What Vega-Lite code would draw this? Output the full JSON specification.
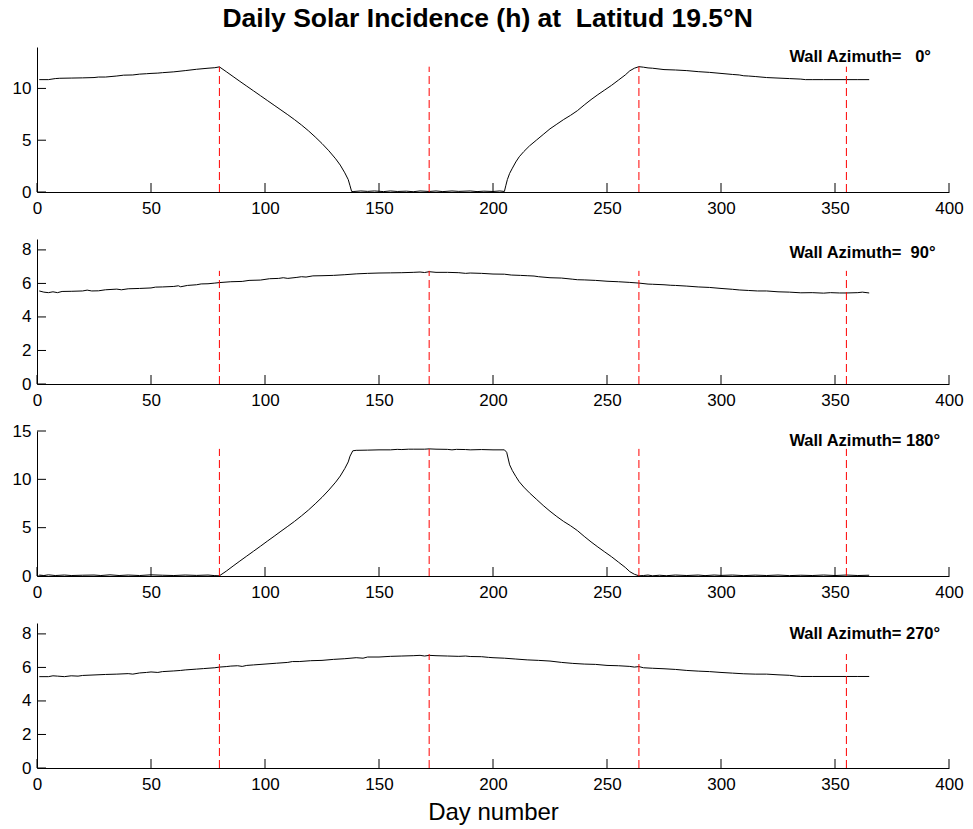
{
  "$schema": "https://vega.github.io/schema/vega-lite/v6.json",
  "background": "white",
  "padding": {"left": 12, "right": 5, "top": 5, "bottom": 5},
  "title": {"text": "Daily Solar Incidence (h) at\u00a0\u00a0Latitud 19.5°N", "font": "Liberation Sans", "fontSize": 26.5, "fontWeight": "bold", "color": "black", "anchor": "middle", "offset": 15},
  "datasets": {
    "days": [{"d": 80}, {"d": 172}, {"d": 264}, {"d": 355}],
    "xt": [{"t": 0}, {"t": 50}, {"t": 100}, {"t": 150}, {"t": 200}, {"t": 250}, {"t": 300}, {"t": 350}, {"t": 400}],
    "n0": [
      {"d":1,"h":10.85},{"d":5,"h":10.85},{"d":8,"h":10.95},{"d":10,"h":10.98},{"d":15,"h":11.0},{"d":20,"h":11.02},{"d":25,"h":11.05},{"d":27,"h":11.1},{"d":30,"h":11.1},{"d":35,"h":11.2},{"d":38,"h":11.28},{"d":42,"h":11.3},{"d":45,"h":11.38},{"d":48,"h":11.42},{"d":50,"h":11.45},{"d":53,"h":11.48},{"d":55,"h":11.52},{"d":60,"h":11.6},{"d":65,"h":11.72},{"d":70,"h":11.85},{"d":75,"h":11.95},{"d":78,"h":12.0},{"d":80,"h":12.08},
      {"d":83,"h":11.62},{"d":86,"h":11.15},{"d":89,"h":10.68},{"d":92,"h":10.22},{"d":95,"h":9.76},{"d":98,"h":9.3},{"d":101,"h":8.84},{"d":104,"h":8.38},{"d":107,"h":7.92},{"d":110,"h":7.46},{"d":113,"h":6.98},{"d":116,"h":6.47},{"d":119,"h":5.92},{"d":122,"h":5.32},{"d":125,"h":4.68},{"d":128,"h":3.98},{"d":131,"h":3.2},{"d":133,"h":2.6},{"d":135,"h":1.85},{"d":136.5,"h":1.2},{"d":137.3,"h":0.6},{"d":138,"h":0.05},
      {"d":139,"h":0.05},{"d":142,"h":0.1},{"d":145,"h":0.06},{"d":148,"h":0.1},{"d":152,"h":0.04},{"d":155,"h":0.1},{"d":158,"h":0.05},{"d":162,"h":0.08},{"d":165,"h":0.03},{"d":168,"h":0.1},{"d":172,"h":0.05},{"d":175,"h":0.1},{"d":178,"h":0.04},{"d":182,"h":0.1},{"d":185,"h":0.06},{"d":190,"h":0.1},{"d":193,"h":0.04},{"d":196,"h":0.08},{"d":200,"h":0.05},{"d":203,"h":0.1},{"d":205,"h":0.05},
      {"d":205.6,"h":0.6},{"d":206.3,"h":1.2},{"d":207.3,"h":1.8},{"d":208.5,"h":2.3},{"d":210,"h":2.9},{"d":211.5,"h":3.4},{"d":213.5,"h":3.9},{"d":216,"h":4.45},{"d":219,"h":5.0},{"d":222,"h":5.55},{"d":225,"h":6.1},{"d":228,"h":6.55},{"d":231,"h":7.0},{"d":234,"h":7.4},{"d":237,"h":7.85},{"d":240,"h":8.4},{"d":243,"h":8.92},{"d":246,"h":9.4},{"d":249,"h":9.85},{"d":252,"h":10.3},{"d":255,"h":10.8},{"d":258,"h":11.3},{"d":260,"h":11.7},{"d":262,"h":11.95},{"d":264,"h":12.1},
      {"d":266,"h":12.05},{"d":268,"h":11.98},{"d":270,"h":11.95},{"d":275,"h":11.82},{"d":280,"h":11.78},{"d":285,"h":11.72},{"d":290,"h":11.62},{"d":295,"h":11.55},{"d":300,"h":11.45},{"d":305,"h":11.35},{"d":308,"h":11.3},{"d":310,"h":11.22},{"d":312,"h":11.2},{"d":315,"h":11.15},{"d":320,"h":11.05},{"d":325,"h":11.0},{"d":330,"h":10.95},{"d":335,"h":10.9},{"d":337,"h":10.85},{"d":340,"h":10.85},{"d":345,"h":10.85},{"d":350,"h":10.85},{"d":355,"h":10.85},{"d":360,"h":10.85},{"d":365,"h":10.85}
    ],
    "n90": [
      {"d":1,"h":5.55},{"d":3,"h":5.48},{"d":5,"h":5.45},{"d":7,"h":5.5},{"d":9,"h":5.45},{"d":11,"h":5.52},{"d":15,"h":5.53},{"d":20,"h":5.55},{"d":22,"h":5.6},{"d":24,"h":5.55},{"d":27,"h":5.56},{"d":30,"h":5.62},{"d":35,"h":5.66},{"d":37,"h":5.62},{"d":40,"h":5.68},{"d":45,"h":5.7},{"d":50,"h":5.73},{"d":52,"h":5.78},{"d":55,"h":5.79},{"d":60,"h":5.82},{"d":62,"h":5.86},{"d":63,"h":5.8},{"d":66,"h":5.88},{"d":70,"h":5.92},{"d":72,"h":5.97},{"d":75,"h":5.98},{"d":78,"h":6.02},{"d":80,"h":6.05},{"d":85,"h":6.1},{"d":90,"h":6.12},{"d":93,"h":6.18},{"d":98,"h":6.2},{"d":102,"h":6.28},{"d":106,"h":6.3},{"d":108,"h":6.34},{"d":110,"h":6.3},{"d":114,"h":6.36},{"d":116,"h":6.4},{"d":118,"h":6.38},{"d":121,"h":6.45},{"d":125,"h":6.46},{"d":130,"h":6.48},{"d":135,"h":6.52},{"d":140,"h":6.57},{"d":145,"h":6.6},{"d":150,"h":6.62},{"d":155,"h":6.63},{"d":160,"h":6.64},{"d":165,"h":6.66},{"d":168,"h":6.68},{"d":170,"h":6.65},{"d":172,"h":6.7},{"d":175,"h":6.66},{"d":180,"h":6.66},{"d":185,"h":6.64},{"d":188,"h":6.6},{"d":190,"h":6.62},{"d":195,"h":6.6},{"d":200,"h":6.56},{"d":205,"h":6.55},{"d":208,"h":6.5},{"d":212,"h":6.48},{"d":215,"h":6.46},{"d":218,"h":6.44},{"d":220,"h":6.4},{"d":225,"h":6.34},{"d":230,"h":6.32},{"d":235,"h":6.25},{"d":237,"h":6.22},{"d":240,"h":6.21},{"d":245,"h":6.18},{"d":250,"h":6.13},{"d":255,"h":6.1},{"d":260,"h":6.06},{"d":264,"h":6.02},{"d":268,"h":5.96},{"d":270,"h":5.95},{"d":275,"h":5.92},{"d":278,"h":5.89},{"d":280,"h":5.88},{"d":285,"h":5.84},{"d":290,"h":5.79},{"d":295,"h":5.76},{"d":300,"h":5.7},{"d":305,"h":5.65},{"d":308,"h":5.61},{"d":312,"h":5.58},{"d":316,"h":5.55},{"d":320,"h":5.55},{"d":325,"h":5.5},{"d":330,"h":5.48},{"d":335,"h":5.44},{"d":340,"h":5.45},{"d":345,"h":5.42},{"d":348,"h":5.45},{"d":352,"h":5.43},{"d":355,"h":5.43},{"d":360,"h":5.45},{"d":362,"h":5.48},{"d":365,"h":5.43}
    ],
    "n180": [
      {"d":1,"h":0.1},{"d":3,"h":0.05},{"d":5,"h":0.12},{"d":8,"h":0.05},{"d":12,"h":0.1},{"d":15,"h":0.05},{"d":20,"h":0.08},{"d":25,"h":0.1},{"d":28,"h":0.05},{"d":32,"h":0.12},{"d":36,"h":0.05},{"d":40,"h":0.1},{"d":45,"h":0.05},{"d":50,"h":0.12},{"d":55,"h":0.08},{"d":60,"h":0.05},{"d":65,"h":0.1},{"d":70,"h":0.06},{"d":75,"h":0.1},{"d":78,"h":0.04},{"d":80,"h":0.02},
      {"d":83,"h":0.5},{"d":86,"h":1.03},{"d":89,"h":1.55},{"d":92,"h":2.06},{"d":95,"h":2.57},{"d":98,"h":3.08},{"d":101,"h":3.6},{"d":104,"h":4.11},{"d":107,"h":4.63},{"d":110,"h":5.14},{"d":113,"h":5.66},{"d":116,"h":6.22},{"d":119,"h":6.81},{"d":122,"h":7.46},{"d":125,"h":8.14},{"d":128,"h":8.89},{"d":131,"h":9.71},{"d":133,"h":10.34},{"d":135,"h":11.12},{"d":136.5,"h":11.8},{"d":137.3,"h":12.4},{"d":138.5,"h":12.95},
      {"d":140,"h":13.0},{"d":145,"h":13.02},{"d":150,"h":13.05},{"d":155,"h":13.05},{"d":158,"h":13.1},{"d":160,"h":13.08},{"d":163,"h":13.12},{"d":165,"h":13.12},{"d":170,"h":13.12},{"d":172,"h":13.15},{"d":175,"h":13.12},{"d":180,"h":13.1},{"d":182,"h":13.05},{"d":184,"h":13.1},{"d":188,"h":13.08},{"d":190,"h":13.05},{"d":195,"h":13.08},{"d":200,"h":13.05},{"d":205,"h":13.05},
      {"d":206,"h":12.8},{"d":207.3,"h":11.5},{"d":208.5,"h":10.9},{"d":210,"h":10.3},{"d":211.5,"h":9.75},{"d":213.5,"h":9.2},{"d":216,"h":8.6},{"d":219,"h":7.95},{"d":222,"h":7.3},{"d":225,"h":6.7},{"d":228,"h":6.15},{"d":231,"h":5.64},{"d":234,"h":5.2},{"d":237,"h":4.7},{"d":240,"h":4.1},{"d":243,"h":3.53},{"d":246,"h":3.0},{"d":249,"h":2.49},{"d":252,"h":1.99},{"d":255,"h":1.44},{"d":258,"h":0.89},{"d":260,"h":0.45},{"d":262,"h":0.18},{"d":264,"h":0.02},
      {"d":266,"h":0.05},{"d":268,"h":0.1},{"d":270,"h":0.02},{"d":273,"h":0.08},{"d":276,"h":0.03},{"d":280,"h":0.1},{"d":285,"h":0.05},{"d":290,"h":0.1},{"d":293,"h":0.04},{"d":297,"h":0.1},{"d":300,"h":0.06},{"d":305,"h":0.1},{"d":310,"h":0.04},{"d":315,"h":0.09},{"d":320,"h":0.05},{"d":325,"h":0.1},{"d":330,"h":0.04},{"d":335,"h":0.08},{"d":340,"h":0.05},{"d":345,"h":0.1},{"d":350,"h":0.05},{"d":355,"h":0.1},{"d":360,"h":0.05},{"d":365,"h":0.08}
    ],
    "n270": [
      {"d":1,"h":5.45},{"d":5,"h":5.45},{"d":7,"h":5.5},{"d":9,"h":5.48},{"d":12,"h":5.45},{"d":15,"h":5.5},{"d":18,"h":5.48},{"d":20,"h":5.52},{"d":25,"h":5.55},{"d":30,"h":5.58},{"d":35,"h":5.6},{"d":40,"h":5.63},{"d":42,"h":5.6},{"d":45,"h":5.67},{"d":48,"h":5.7},{"d":50,"h":5.73},{"d":53,"h":5.7},{"d":55,"h":5.75},{"d":60,"h":5.79},{"d":63,"h":5.82},{"d":65,"h":5.85},{"d":70,"h":5.9},{"d":73,"h":5.93},{"d":75,"h":5.95},{"d":78,"h":5.98},{"d":80,"h":6.02},{"d":83,"h":6.05},{"d":85,"h":6.08},{"d":88,"h":6.1},{"d":90,"h":6.06},{"d":92,"h":6.12},{"d":95,"h":6.15},{"d":100,"h":6.2},{"d":105,"h":6.25},{"d":110,"h":6.3},{"d":112,"h":6.35},{"d":115,"h":6.35},{"d":120,"h":6.4},{"d":125,"h":6.42},{"d":130,"h":6.48},{"d":135,"h":6.52},{"d":140,"h":6.58},{"d":143,"h":6.55},{"d":145,"h":6.62},{"d":150,"h":6.62},{"d":155,"h":6.66},{"d":160,"h":6.68},{"d":165,"h":6.7},{"d":168,"h":6.72},{"d":170,"h":6.68},{"d":172,"h":6.72},{"d":175,"h":6.7},{"d":180,"h":6.68},{"d":185,"h":6.66},{"d":188,"h":6.68},{"d":190,"h":6.65},{"d":195,"h":6.64},{"d":198,"h":6.6},{"d":200,"h":6.58},{"d":205,"h":6.55},{"d":210,"h":6.5},{"d":215,"h":6.45},{"d":220,"h":6.42},{"d":225,"h":6.38},{"d":230,"h":6.3},{"d":235,"h":6.24},{"d":240,"h":6.2},{"d":245,"h":6.18},{"d":250,"h":6.12},{"d":255,"h":6.1},{"d":260,"h":6.06},{"d":262,"h":6.02},{"d":264,"h":6.05},{"d":266,"h":5.98},{"d":270,"h":5.95},{"d":275,"h":5.92},{"d":280,"h":5.88},{"d":285,"h":5.82},{"d":290,"h":5.78},{"d":295,"h":5.75},{"d":300,"h":5.7},{"d":305,"h":5.66},{"d":310,"h":5.62},{"d":315,"h":5.6},{"d":320,"h":5.6},{"d":325,"h":5.56},{"d":330,"h":5.53},{"d":333,"h":5.48},{"d":335,"h":5.46},{"d":340,"h":5.46},{"d":350,"h":5.46},{"d":360,"h":5.46},{"d":365,"h":5.46}
    ]
  },
  "bounds": "flush",
  "spacing": 47,
  "vconcat": [
    {
      "width": 912, "height": 145,
      "layer": [
        {"data": {"name": "n0"}, "mark": {"type": "line", "color": "black", "strokeWidth": 1},
         "encoding": {
           "x": {"field": "d", "type": "quantitative", "scale": {"domain": [0, 400], "nice": false}, "axis": {"values": [0,50,100,150,200,250,300,350,400], "format": "d", "title": null}},
           "y": {"field": "h", "type": "quantitative", "scale": {"domain": [0, 14], "nice": false}, "axis": {"values": [0,5,10], "format": "d", "title": null}}}},
        {"data": {"name": "xt"}, "mark": {"type": "rule", "color": "black", "strokeWidth": 1, "y2Offset": -9},
         "encoding": {"x": {"field": "t", "type": "quantitative"}, "y": {"datum": 0}, "y2": {"datum": 0}}},
        {"data": {"values": [{"t": 0}, {"t": 5}, {"t": 10}]}, "mark": {"type": "rule", "color": "black", "strokeWidth": 1, "x2Offset": 9},
         "encoding": {"y": {"field": "t", "type": "quantitative"}, "x": {"datum": 0}, "x2": {"datum": 0}}},
        {"data": {"name": "days"}, "mark": {"type": "rule", "color": "#ff0000", "strokeWidth": 1, "strokeDash": [8, 4]},
         "encoding": {"x": {"field": "d", "type": "quantitative"}, "y": {"datum": 0}, "y2": {"datum": 12.1}}},
        {"data": {"values": [{"label": "Wall Azimuth=\u00a0\u00a0\u00a00°"}]}, "mark": {"type": "text", "align": "left", "baseline": "alphabetic", "font": "Liberation Sans", "fontSize": 16.5, "fontWeight": "bold", "color": "black"},
         "encoding": {"x": {"datum": 330}, "y": {"datum": 12.6}, "text": {"field": "label"}}}
      ]
    },
    {
      "width": 912, "height": 145,
      "layer": [
        {"data": {"name": "n90"}, "mark": {"type": "line", "color": "black", "strokeWidth": 1},
         "encoding": {
           "x": {"field": "d", "type": "quantitative", "scale": {"domain": [0, 400], "nice": false}, "axis": {"values": [0,50,100,150,200,250,300,350,400], "format": "d", "title": null}},
           "y": {"field": "h", "type": "quantitative", "scale": {"domain": [0, 8.65], "nice": false}, "axis": {"values": [0,2,4,6,8], "format": "d", "title": null}}}},
        {"data": {"name": "xt"}, "mark": {"type": "rule", "color": "black", "strokeWidth": 1, "y2Offset": -9},
         "encoding": {"x": {"field": "t", "type": "quantitative"}, "y": {"datum": 0}, "y2": {"datum": 0}}},
        {"data": {"values": [{"t": 0}, {"t": 2}, {"t": 4}, {"t": 6}, {"t": 8}]}, "mark": {"type": "rule", "color": "black", "strokeWidth": 1, "x2Offset": 9},
         "encoding": {"y": {"field": "t", "type": "quantitative"}, "x": {"datum": 0}, "x2": {"datum": 0}}},
        {"data": {"name": "days"}, "mark": {"type": "rule", "color": "#ff0000", "strokeWidth": 1, "strokeDash": [8, 4]},
         "encoding": {"x": {"field": "d", "type": "quantitative"}, "y": {"datum": 0}, "y2": {"datum": 6.75}}},
        {"data": {"values": [{"label": "Wall Azimuth=\u00a0\u00a090°"}]}, "mark": {"type": "text", "align": "left", "baseline": "alphabetic", "font": "Liberation Sans", "fontSize": 16.5, "fontWeight": "bold", "color": "black"},
         "encoding": {"x": {"datum": 330}, "y": {"datum": 7.5}, "text": {"field": "label"}}}
      ]
    },
    {
      "width": 912, "height": 145,
      "layer": [
        {"data": {"name": "n180"}, "mark": {"type": "line", "color": "black", "strokeWidth": 1},
         "encoding": {
           "x": {"field": "d", "type": "quantitative", "scale": {"domain": [0, 400], "nice": false}, "axis": {"values": [0,50,100,150,200,250,300,350,400], "format": "d", "title": null}},
           "y": {"field": "h", "type": "quantitative", "scale": {"domain": [0, 15], "nice": false}, "axis": {"values": [0,5,10,15], "format": "d", "title": null}}}},
        {"data": {"name": "xt"}, "mark": {"type": "rule", "color": "black", "strokeWidth": 1, "y2Offset": -9},
         "encoding": {"x": {"field": "t", "type": "quantitative"}, "y": {"datum": 0}, "y2": {"datum": 0}}},
        {"data": {"values": [{"t": 0}, {"t": 5}, {"t": 10}, {"t": 15}]}, "mark": {"type": "rule", "color": "black", "strokeWidth": 1, "x2Offset": 9},
         "encoding": {"y": {"field": "t", "type": "quantitative"}, "x": {"datum": 0}, "x2": {"datum": 0}}},
        {"data": {"name": "days"}, "mark": {"type": "rule", "color": "#ff0000", "strokeWidth": 1, "strokeDash": [8, 4]},
         "encoding": {"x": {"field": "d", "type": "quantitative"}, "y": {"datum": 0}, "y2": {"datum": 13.15}}},
        {"data": {"values": [{"label": "Wall Azimuth= 180°"}]}, "mark": {"type": "text", "align": "left", "baseline": "alphabetic", "font": "Liberation Sans", "fontSize": 16.5, "fontWeight": "bold", "color": "black"},
         "encoding": {"x": {"datum": 330}, "y": {"datum": 13.4}, "text": {"field": "label"}}}
      ]
    },
    {
      "width": 912, "height": 145,
      "layer": [
        {"data": {"name": "n270"}, "mark": {"type": "line", "color": "black", "strokeWidth": 1},
         "encoding": {
           "x": {"field": "d", "type": "quantitative", "scale": {"domain": [0, 400], "nice": false}, "axis": {"values": [0,50,100,150,200,250,300,350,400], "format": "d", "title": "Day number", "titlePadding": 8}},
           "y": {"field": "h", "type": "quantitative", "scale": {"domain": [0, 8.65], "nice": false}, "axis": {"values": [0,2,4,6,8], "format": "d", "title": null}}}},
        {"data": {"name": "xt"}, "mark": {"type": "rule", "color": "black", "strokeWidth": 1, "y2Offset": -9},
         "encoding": {"x": {"field": "t", "type": "quantitative"}, "y": {"datum": 0}, "y2": {"datum": 0}}},
        {"data": {"values": [{"t": 0}, {"t": 2}, {"t": 4}, {"t": 6}, {"t": 8}]}, "mark": {"type": "rule", "color": "black", "strokeWidth": 1, "x2Offset": 9},
         "encoding": {"y": {"field": "t", "type": "quantitative"}, "x": {"datum": 0}, "x2": {"datum": 0}}},
        {"data": {"name": "days"}, "mark": {"type": "rule", "color": "#ff0000", "strokeWidth": 1, "strokeDash": [8, 4]},
         "encoding": {"x": {"field": "d", "type": "quantitative"}, "y": {"datum": 0}, "y2": {"datum": 6.8}}},
        {"data": {"values": [{"label": "Wall Azimuth= 270°"}]}, "mark": {"type": "text", "align": "left", "baseline": "alphabetic", "font": "Liberation Sans", "fontSize": 16.5, "fontWeight": "bold", "color": "black"},
         "encoding": {"x": {"datum": 330}, "y": {"datum": 7.7}, "text": {"field": "label"}}}
      ]
    }
  ],
  "config": {
    "font": "Liberation Sans",
    "view": {"stroke": null},
    "axis": {"grid": false, "ticks": false, "tickCount": 20, "domainColor": "black", "domainWidth": 1, "labelColor": "black", "labelFont": "Liberation Sans", "labelFontSize": 17, "labelFlush": false, "labelOverlap": false, "labelSeparation": 0, "titleFont": "Liberation Sans", "titleFontSize": 24, "titleFontWeight": "normal", "titleColor": "black"},
    "axisX": {"labelPadding": 8},
    "axisY": {"labelPadding": 6}
  }
}
